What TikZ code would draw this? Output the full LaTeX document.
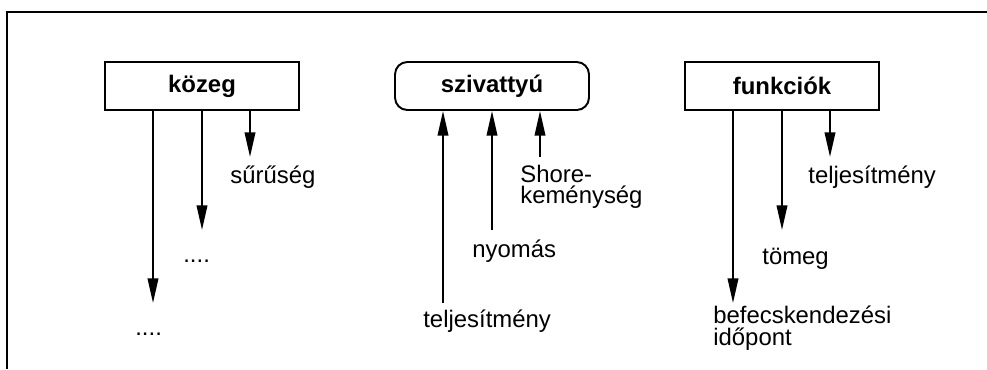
\documentclass[tikz,border=0pt]{standalone}
\usepackage{fontspec}
\setmainfont{Liberation Sans}
\usetikzlibrary{arrows.meta,positioning}

\begin{document}
\begin{tikzpicture}
[x=0.02cm,y=-0.02cm]
\tikzset{
	unit/.style = {draw, line width = 1.1pt, minimum width = 3.88cm, minimum height = 0.96cm, inner sep = 0, font = \fontsize{13.6pt}{14pt}\selectfont\bfseries},
	pump/.style = {unit, rounded corners = 7pt},
	quantity/.style = {anchor = base west, inner sep = 0, align = left, font = \fontsize{13.6pt}{12.2pt}\selectfont},
	flow/.style = {line width = 1.1pt, -{Triangle[length=14pt,width=6pt]}}
}
\useasboundingbox (0,0) rectangle (987,369);
\draw [line width = 1.1pt] (7,369) -- (7,12) -- (987,12);

% boxes
\node(kozeg) [unit] at (202,86) {közeg};
\node(szivattyu) [pump] at (492,86) {szivattyú};
\node(funkciok) [unit] at (782,86) {funkciók};

% arrow ends
\coordinate (k1) at (153,303);
\coordinate (k2) at (202,230);
\coordinate (k3) at (250,157);
\coordinate (s1) at (443,303);
\coordinate (s2) at (492,230);
\coordinate (s3) at (540,157);
\coordinate (f1) at (733,303);
\coordinate (f2) at (782,230);
\coordinate (f3) at (830,157);

% labels
\node(suruseg) [quantity] at (230,183) {sűrűség};
\node(kdots2) [quantity] at (183,262) {....};
\node(kdots1) [quantity] at (135,335) {....};
\node(shore) [quantity] at (520,203.5) {Shore-\\keménység};
\node(nyomas) [quantity] at (472,257) {nyomás};
\node(steljes) [quantity] at (423,327) {teljesítmény};
\node(fteljes) [quantity] at (808,183) {teljesítmény};
\node(tomeg) [quantity] at (762,264) {tömeg};
\node(idopont) [quantity] at (713,345) {befecskendezési\\időpont};

% connectors
\draw [flow] (kozeg.south -| k1) -- (k1);
\draw [flow] (kozeg.south -| k2) -- (k2);
\draw [flow] (kozeg.south -| k3) -- (k3);
\draw [flow] (s1) -- (szivattyu.south -| s1);
\draw [flow] (s2) -- (szivattyu.south -| s2);
\draw [flow] (s3) -- (szivattyu.south -| s3);
\draw [flow] (funkciok.south -| f1) -- (f1);
\draw [flow] (funkciok.south -| f2) -- (f2);
\draw [flow] (funkciok.south -| f3) -- (f3);
\end{tikzpicture}
\end{document}
